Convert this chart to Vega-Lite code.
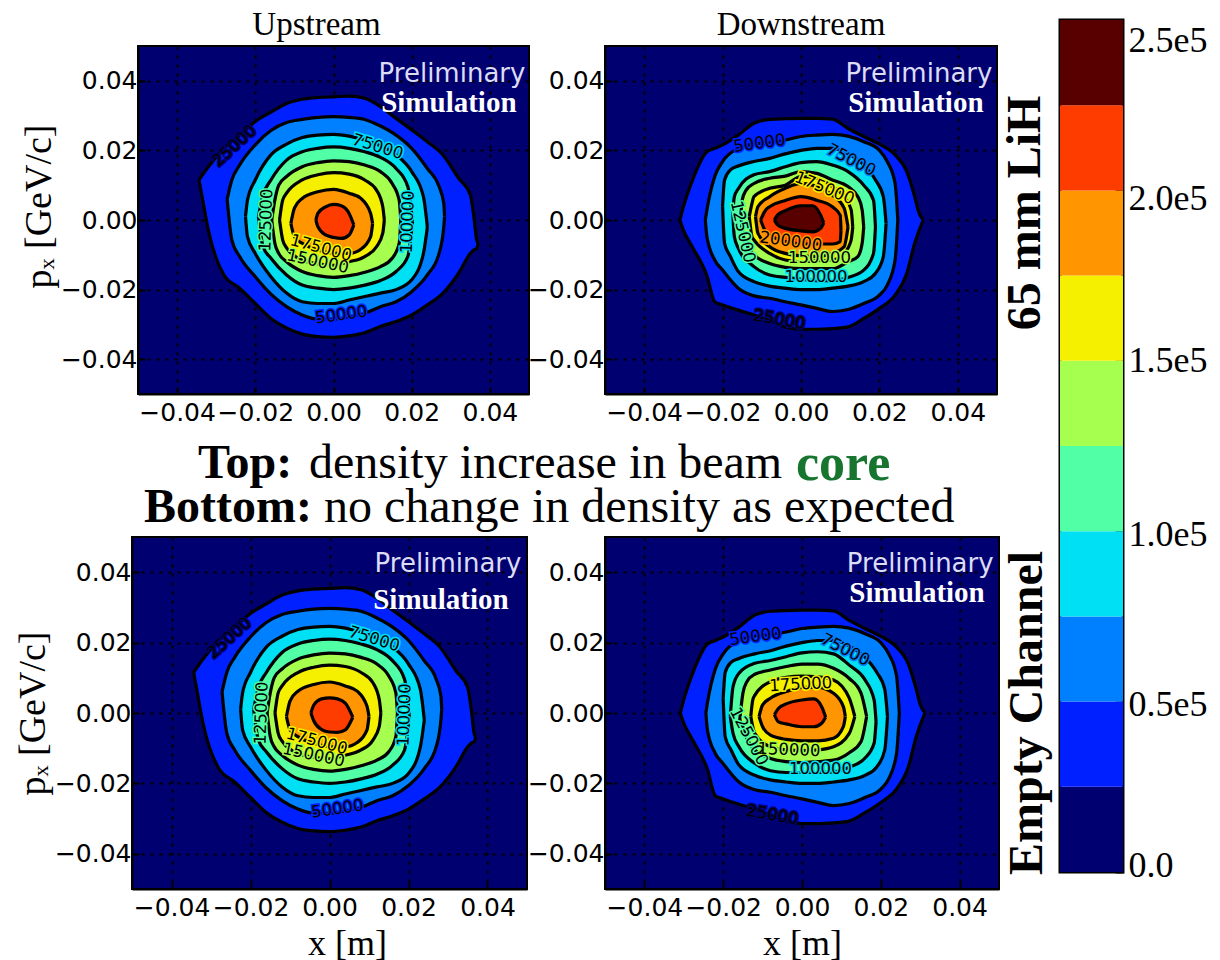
{"$schema":"https://vega.github.io/schema/vega-lite/v6.json","padding":{"left":13,"top":8,"right":0,"bottom":0},"background":"white",
"datasets":{
"up":[
{"l":25000,"x":-0.0344,"a":0.0115,"b":0.0115},{"l":25000,"x":-0.0335,"a":0.013,"b":0.006},{"l":25000,"x":-0.032,"a":0.0153,"b":-0.003},{"l":25000,"x":-0.028,"a":0.0206,"b":-0.0158},{"l":25000,"x":-0.024,"a":0.0244,"b":-0.0196},{"l":25000,"x":-0.02,"a":0.0283,"b":-0.024},{"l":25000,"x":-0.016,"a":0.031,"b":-0.0283},{"l":25000,"x":-0.012,"a":0.0335,"b":-0.031},{"l":25000,"x":-0.008,"a":0.0347,"b":-0.0328},{"l":25000,"x":-0.004,"a":0.0352,"b":-0.0335},{"l":25000,"x":0,"a":0.0354,"b":-0.0337},{"l":25000,"x":0.004,"a":0.0356,"b":-0.0333},{"l":25000,"x":0.008,"a":0.035,"b":-0.0324},{"l":25000,"x":0.012,"a":0.0326,"b":-0.0306},{"l":25000,"x":0.016,"a":0.0292,"b":-0.0292},{"l":25000,"x":0.02,"a":0.0259,"b":-0.0273},{"l":25000,"x":0.024,"a":0.0225,"b":-0.0244},{"l":25000,"x":0.028,"a":0.0187,"b":-0.021},{"l":25000,"x":0.032,"a":0.012,"b":-0.0153},{"l":25000,"x":0.035,"a":0.0072,"b":-0.0096},{"l":25000,"x":0.036,"a":0,"b":-0.0085},{"l":25000,"x":0.0366,"a":-0.0057,"b":-0.0082},{"l":25000,"x":0.037,"a":-0.0067,"b":-0.0067},
{"l":50000,"x":-0.0272,"a":0.006,"b":0.006},{"l":50000,"x":-0.026,"a":0.0115,"b":-0.0057},{"l":50000,"x":-0.024,"a":0.0158,"b":-0.0105},{"l":50000,"x":-0.02,"a":0.0216,"b":-0.0163},{"l":50000,"x":-0.016,"a":0.0257,"b":-0.0213},{"l":50000,"x":-0.012,"a":0.028,"b":-0.0249},{"l":50000,"x":-0.008,"a":0.0289,"b":-0.0273},{"l":50000,"x":-0.004,"a":0.0295,"b":-0.0285},{"l":50000,"x":0,"a":0.0297,"b":-0.0285},{"l":50000,"x":0.004,"a":0.0295,"b":-0.0278},{"l":50000,"x":0.008,"a":0.0289,"b":-0.0268},{"l":50000,"x":0.012,"a":0.027,"b":-0.0249},{"l":50000,"x":0.016,"a":0.0244,"b":-0.0235},{"l":50000,"x":0.02,"a":0.0206,"b":-0.0206},{"l":50000,"x":0.024,"a":0.0148,"b":-0.0158},{"l":50000,"x":0.027,"a":0.0096,"b":-0.0096},{"l":50000,"x":0.0282,"a":0.0048,"b":-0.002},{"l":50000,"x":0.0284,"a":0.001,"b":0.001},
{"l":75000,"x":-0.0225,"a":0.001,"b":0.001},{"l":75000,"x":-0.022,"a":0.0057,"b":-0.0048},{"l":75000,"x":-0.02,"a":0.0115,"b":-0.0096},{"l":75000,"x":-0.016,"a":0.0187,"b":-0.0163},{"l":75000,"x":-0.012,"a":0.0218,"b":-0.021},{"l":75000,"x":-0.008,"a":0.0237,"b":-0.0235},{"l":75000,"x":-0.004,"a":0.0244,"b":-0.024},{"l":75000,"x":0,"a":0.0246,"b":-0.024},{"l":75000,"x":0.004,"a":0.0241,"b":-0.023},{"l":75000,"x":0.008,"a":0.023,"b":-0.022},{"l":75000,"x":0.012,"a":0.0213,"b":-0.021},{"l":75000,"x":0.016,"a":0.0187,"b":-0.02},{"l":75000,"x":0.02,"a":0.0139,"b":-0.0172},{"l":75000,"x":0.023,"a":0.0067,"b":-0.0096},{"l":75000,"x":0.024,"a":-0.002,"b":-0.002},
{"l":100000,"x":-0.0192,"a":0.001,"b":0.001},{"l":100000,"x":-0.018,"a":0.0072,"b":-0.0077},{"l":100000,"x":-0.016,"a":0.0115,"b":-0.011},{"l":100000,"x":-0.012,"a":0.0172,"b":-0.0158},{"l":100000,"x":-0.008,"a":0.0196,"b":-0.0187},{"l":100000,"x":-0.004,"a":0.0206,"b":-0.0196},{"l":100000,"x":0,"a":0.021,"b":-0.02},{"l":100000,"x":0.004,"a":0.0206,"b":-0.0196},{"l":100000,"x":0.008,"a":0.0196,"b":-0.0187},{"l":100000,"x":0.012,"a":0.018,"b":-0.0174},{"l":100000,"x":0.016,"a":0.0148,"b":-0.0148},{"l":100000,"x":0.019,"a":0.0096,"b":-0.0105},{"l":100000,"x":0.0198,"a":0.0038,"b":-0.0048},{"l":100000,"x":0.0202,"a":-0.0005,"b":-0.0005},
{"l":125000,"x":-0.0158,"a":0,"b":0},{"l":125000,"x":-0.015,"a":0.0057,"b":-0.0067},{"l":125000,"x":-0.014,"a":0.01,"b":-0.0096},{"l":125000,"x":-0.012,"a":0.0125,"b":-0.012},{"l":125000,"x":-0.008,"a":0.0153,"b":-0.0148},{"l":125000,"x":-0.004,"a":0.0165,"b":-0.016},{"l":125000,"x":0,"a":0.017,"b":-0.0165},{"l":125000,"x":0.004,"a":0.0168,"b":-0.016},{"l":125000,"x":0.008,"a":0.0158,"b":-0.015},{"l":125000,"x":0.012,"a":0.0139,"b":-0.0134},{"l":125000,"x":0.015,"a":0.0105,"b":-0.011},{"l":125000,"x":0.0168,"a":0.0057,"b":-0.0067},{"l":125000,"x":0.0172,"a":0,"b":0},
{"l":150000,"x":-0.0138,"a":0,"b":0},{"l":150000,"x":-0.013,"a":0.0057,"b":-0.0057},{"l":150000,"x":-0.012,"a":0.0077,"b":-0.008},{"l":150000,"x":-0.008,"a":0.0115,"b":-0.0115},{"l":150000,"x":-0.004,"a":0.013,"b":-0.0126},{"l":150000,"x":0,"a":0.0136,"b":-0.013},{"l":150000,"x":0.004,"a":0.0132,"b":-0.012},{"l":150000,"x":0.008,"a":0.0115,"b":-0.0105},{"l":150000,"x":0.011,"a":0.0086,"b":-0.0077},{"l":150000,"x":0.0126,"a":0.0038,"b":-0.0038},{"l":150000,"x":0.013,"a":0,"b":0},
{"l":175000,"x":-0.0109,"a":-0.001,"b":-0.001},{"l":175000,"x":-0.01,"a":0.0034,"b":-0.0048},{"l":175000,"x":-0.008,"a":0.0062,"b":-0.0067},{"l":175000,"x":-0.004,"a":0.0081,"b":-0.0086},{"l":175000,"x":0,"a":0.0088,"b":-0.0096},{"l":175000,"x":0.004,"a":0.0077,"b":-0.0096},{"l":175000,"x":0.007,"a":0.0062,"b":-0.0084},{"l":175000,"x":0.0095,"a":0.0019,"b":-0.0048},{"l":175000,"x":0.01,"a":-0.001,"b":-0.001},
{"s":"LiH","l":200000,"x":-0.0045,"a":0,"b":0},{"s":"LiH","l":200000,"x":-0.004,"a":0.0019,"b":-0.0019},{"s":"LiH","l":200000,"x":-0.002,"a":0.0038,"b":-0.0043},{"s":"LiH","l":200000,"x":0,"a":0.0045,"b":-0.005},{"s":"LiH","l":200000,"x":0.002,"a":0.0041,"b":-0.0053},{"s":"LiH","l":200000,"x":0.004,"a":0.0019,"b":-0.0043},{"s":"LiH","l":200000,"x":0.0052,"a":-0.0014,"b":-0.0014},
{"s":"Empty","l":200000,"x":-0.0047,"a":0,"b":0},{"s":"Empty","l":200000,"x":-0.004,"a":0.0022,"b":-0.0022},{"s":"Empty","l":200000,"x":-0.002,"a":0.004,"b":-0.0047},{"s":"Empty","l":200000,"x":0,"a":0.0043,"b":-0.0054},{"s":"Empty","l":200000,"x":0.002,"a":0.004,"b":-0.0055},{"s":"Empty","l":200000,"x":0.004,"a":0.0028,"b":-0.0048},{"s":"Empty","l":200000,"x":0.0059,"a":-0.0012,"b":-0.0012}
],
"down":[
{"l":25000,"x":-0.0309,"a":0,"b":0},{"l":25000,"x":-0.03,"a":0.0038,"b":-0.0029},{"l":25000,"x":-0.028,"a":0.0105,"b":-0.0072},{"l":25000,"x":-0.024,"a":0.0196,"b":-0.016},{"l":25000,"x":-0.022,"a":0.0206,"b":-0.0235},{"l":25000,"x":-0.02,"a":0.0216,"b":-0.0244},{"l":25000,"x":-0.016,"a":0.0244,"b":-0.0259},{"l":25000,"x":-0.012,"a":0.0278,"b":-0.0273},{"l":25000,"x":-0.008,"a":0.0289,"b":-0.0289},{"l":25000,"x":-0.004,"a":0.0291,"b":-0.0307},{"l":25000,"x":0,"a":0.0292,"b":-0.0314},{"l":25000,"x":0.004,"a":0.0292,"b":-0.0314},{"l":25000,"x":0.008,"a":0.029,"b":-0.0312},{"l":25000,"x":0.012,"a":0.0263,"b":-0.0307},{"l":25000,"x":0.016,"a":0.024,"b":-0.0283},{"l":25000,"x":0.02,"a":0.0218,"b":-0.0254},{"l":25000,"x":0.024,"a":0.0187,"b":-0.0216},{"l":25000,"x":0.027,"a":0.0139,"b":-0.0153},{"l":25000,"x":0.029,"a":0.0067,"b":-0.0067},{"l":25000,"x":0.03,"a":0.0024,"b":-0.0034},{"l":25000,"x":0.0312,"a":0,"b":0},
{"l":50000,"x":-0.0244,"a":0,"b":0},{"l":50000,"x":-0.024,"a":0.0029,"b":-0.0048},{"l":50000,"x":-0.022,"a":0.0125,"b":-0.0115},{"l":50000,"x":-0.02,"a":0.0168,"b":-0.0144},{"l":50000,"x":-0.016,"a":0.0206,"b":-0.0196},{"l":50000,"x":-0.012,"a":0.0218,"b":-0.0218},{"l":50000,"x":-0.008,"a":0.0222,"b":-0.0225},{"l":50000,"x":-0.004,"a":0.023,"b":-0.0235},{"l":50000,"x":0,"a":0.024,"b":-0.0244},{"l":50000,"x":0.004,"a":0.0244,"b":-0.0254},{"l":50000,"x":0.008,"a":0.0246,"b":-0.0263},{"l":50000,"x":0.012,"a":0.0241,"b":-0.0257},{"l":50000,"x":0.016,"a":0.0225,"b":-0.024},{"l":50000,"x":0.02,"a":0.02,"b":-0.0216},{"l":50000,"x":0.022,"a":0.0168,"b":-0.0187},{"l":50000,"x":0.024,"a":0.0105,"b":-0.0115},{"l":50000,"x":0.0247,"a":0,"b":0},
{"l":75000,"x":-0.02,"a":0.004,"b":0.004},{"l":75000,"x":-0.0195,"a":0.0115,"b":-0.0067},{"l":75000,"x":-0.018,"a":0.0144,"b":-0.0105},{"l":75000,"x":-0.016,"a":0.0155,"b":-0.0148},{"l":75000,"x":-0.012,"a":0.0168,"b":-0.0177},{"l":75000,"x":-0.008,"a":0.0177,"b":-0.019},{"l":75000,"x":-0.004,"a":0.019,"b":-0.0196},{"l":75000,"x":0,"a":0.02,"b":-0.02},{"l":75000,"x":0.004,"a":0.0206,"b":-0.02},{"l":75000,"x":0.008,"a":0.0206,"b":-0.0196},{"l":75000,"x":0.012,"a":0.019,"b":-0.019},{"l":75000,"x":0.016,"a":0.0158,"b":-0.0177},{"l":75000,"x":0.019,"a":0.0115,"b":-0.0153},{"l":75000,"x":0.021,"a":0.0067,"b":-0.0105},{"l":75000,"x":0.0217,"a":-0.001,"b":-0.001},
{"s":"LiH","l":100000,"x":-0.0174,"a":0.002,"b":0.002},{"s":"LiH","l":100000,"x":-0.017,"a":0.0067,"b":-0.0048},{"s":"LiH","l":100000,"x":-0.016,"a":0.009,"b":-0.0081},{"s":"LiH","l":100000,"x":-0.012,"a":0.013,"b":-0.0134},{"s":"LiH","l":100000,"x":-0.008,"a":0.0139,"b":-0.0158},{"s":"LiH","l":100000,"x":-0.004,"a":0.0153,"b":-0.0165},{"s":"LiH","l":100000,"x":0,"a":0.0165,"b":-0.017},{"s":"LiH","l":100000,"x":0.004,"a":0.0168,"b":-0.0174},{"s":"LiH","l":100000,"x":0.008,"a":0.0158,"b":-0.0174},{"s":"LiH","l":100000,"x":0.012,"a":0.0139,"b":-0.0165},{"s":"LiH","l":100000,"x":0.016,"a":0.01,"b":-0.0144},{"s":"LiH","l":100000,"x":0.0185,"a":0.0057,"b":-0.0096},{"s":"LiH","l":100000,"x":0.019,"a":-0.002,"b":-0.002},
{"s":"LiH","l":125000,"x":-0.0153,"a":0.002,"b":0.002},{"s":"LiH","l":125000,"x":-0.015,"a":0.0057,"b":-0.003},{"s":"LiH","l":125000,"x":-0.014,"a":0.0086,"b":-0.0067},{"s":"LiH","l":125000,"x":-0.012,"a":0.0105,"b":-0.01},{"s":"LiH","l":125000,"x":-0.008,"a":0.012,"b":-0.0125},{"s":"LiH","l":125000,"x":-0.004,"a":0.0126,"b":-0.0136},{"s":"LiH","l":125000,"x":0,"a":0.0139,"b":-0.014},{"s":"LiH","l":125000,"x":0.004,"a":0.0134,"b":-0.014},{"s":"LiH","l":125000,"x":0.008,"a":0.0115,"b":-0.014},{"s":"LiH","l":125000,"x":0.012,"a":0.0096,"b":-0.012},{"s":"LiH","l":125000,"x":0.0145,"a":0.0067,"b":-0.0105},{"s":"LiH","l":125000,"x":0.0156,"a":0.0029,"b":-0.0067},{"s":"LiH","l":125000,"x":0.016,"a":-0.002,"b":-0.002},
{"s":"LiH","l":150000,"x":-0.0132,"a":0.001,"b":0.001},{"s":"LiH","l":150000,"x":-0.0125,"a":0.0048,"b":-0.0048},{"s":"LiH","l":150000,"x":-0.012,"a":0.0067,"b":-0.0057},{"s":"LiH","l":150000,"x":-0.008,"a":0.0091,"b":-0.0096},{"s":"LiH","l":150000,"x":-0.004,"a":0.01,"b":-0.0115},{"s":"LiH","l":150000,"x":0,"a":0.0125,"b":-0.012},{"s":"LiH","l":150000,"x":0.004,"a":0.012,"b":-0.0117},{"s":"LiH","l":150000,"x":0.008,"a":0.0096,"b":-0.0115},{"s":"LiH","l":150000,"x":0.011,"a":0.0067,"b":-0.0096},{"s":"LiH","l":150000,"x":0.0128,"a":0.0029,"b":-0.0057},{"s":"LiH","l":150000,"x":0.0132,"a":-0.002,"b":-0.002},
{"s":"LiH","l":175000,"x":-0.0116,"a":0.001,"b":0.001},{"s":"LiH","l":175000,"x":-0.011,"a":0.0038,"b":-0.0038},{"s":"LiH","l":175000,"x":-0.008,"a":0.0067,"b":-0.0077},{"s":"LiH","l":175000,"x":-0.004,"a":0.0091,"b":-0.0096},{"s":"LiH","l":175000,"x":0,"a":0.0105,"b":-0.0103},{"s":"LiH","l":175000,"x":0.004,"a":0.0096,"b":-0.0105},{"s":"LiH","l":175000,"x":0.008,"a":0.0072,"b":-0.0096},{"s":"LiH","l":175000,"x":0.011,"a":0.0034,"b":-0.0077},{"s":"LiH","l":175000,"x":0.012,"a":-0.002,"b":-0.002},
{"s":"LiH","l":200000,"x":-0.0103,"a":0,"b":0},{"s":"LiH","l":200000,"x":-0.009,"a":0.0029,"b":-0.0034},{"s":"LiH","l":200000,"x":-0.008,"a":0.0038,"b":-0.0043},{"s":"LiH","l":200000,"x":-0.004,"a":0.0056,"b":-0.0062},{"s":"LiH","l":200000,"x":0,"a":0.0067,"b":-0.0069},{"s":"LiH","l":200000,"x":0.004,"a":0.0057,"b":-0.0069},{"s":"LiH","l":200000,"x":0.008,"a":0.0038,"b":-0.0069},{"s":"LiH","l":200000,"x":0.01,"a":0.0014,"b":-0.0062},{"s":"LiH","l":200000,"x":0.0102,"a":-0.0029,"b":-0.0029},
{"s":"LiH","l":225000,"x":-0.0068,"a":0,"b":0},{"s":"LiH","l":225000,"x":-0.006,"a":0.0014,"b":-0.0014},{"s":"LiH","l":225000,"x":-0.004,"a":0.0027,"b":-0.0024},{"s":"LiH","l":225000,"x":0,"a":0.0041,"b":-0.0031},{"s":"LiH","l":225000,"x":0.003,"a":0.0041,"b":-0.0034},{"s":"LiH","l":225000,"x":0.005,"a":0.0014,"b":-0.0024},{"s":"LiH","l":225000,"x":0.0058,"a":-0.0008,"b":-0.0008},
{"s":"Empty","l":100000,"x":-0.0182,"a":-0.001,"b":-0.001},{"s":"Empty","l":100000,"x":-0.0175,"a":0.0075,"b":-0.0058},{"s":"Empty","l":100000,"x":-0.016,"a":0.0113,"b":-0.0096},{"s":"Empty","l":100000,"x":-0.012,"a":0.0141,"b":-0.0143},{"s":"Empty","l":100000,"x":-0.008,"a":0.0149,"b":-0.0164},{"s":"Empty","l":100000,"x":-0.004,"a":0.016,"b":-0.0169},{"s":"Empty","l":100000,"x":0,"a":0.0171,"b":-0.0169},{"s":"Empty","l":100000,"x":0.004,"a":0.0174,"b":-0.0169},{"s":"Empty","l":100000,"x":0.008,"a":0.0168,"b":-0.0167},{"s":"Empty","l":100000,"x":0.012,"a":0.0136,"b":-0.0154},{"s":"Empty","l":100000,"x":0.016,"a":0.0094,"b":-0.0128},{"s":"Empty","l":100000,"x":0.0183,"a":0.0037,"b":-0.0086},{"s":"Empty","l":100000,"x":0.0188,"a":-0.0025,"b":-0.0025},
{"s":"Empty","l":125000,"x":-0.0158,"a":-0.002,"b":-0.002},{"s":"Empty","l":125000,"x":-0.015,"a":0.0056,"b":-0.0039},{"s":"Empty","l":125000,"x":-0.014,"a":0.0089,"b":-0.0072},{"s":"Empty","l":125000,"x":-0.012,"a":0.011,"b":-0.0105},{"s":"Empty","l":125000,"x":-0.008,"a":0.0122,"b":-0.0129},{"s":"Empty","l":125000,"x":-0.004,"a":0.0132,"b":-0.0138},{"s":"Empty","l":125000,"x":0,"a":0.0139,"b":-0.0141},{"s":"Empty","l":125000,"x":0.004,"a":0.0139,"b":-0.0138},{"s":"Empty","l":125000,"x":0.008,"a":0.0127,"b":-0.0134},{"s":"Empty","l":125000,"x":0.012,"a":0.0098,"b":-0.0113},{"s":"Empty","l":125000,"x":0.015,"a":0.0056,"b":-0.0081},{"s":"Empty","l":125000,"x":0.0164,"a":-0.001,"b":-0.001},
{"s":"Empty","l":150000,"x":-0.013,"a":-0.001,"b":-0.001},{"s":"Empty","l":150000,"x":-0.0125,"a":0.0037,"b":-0.0039},{"s":"Empty","l":150000,"x":-0.012,"a":0.005,"b":-0.0058},{"s":"Empty","l":150000,"x":-0.008,"a":0.0089,"b":-0.0096},{"s":"Empty","l":150000,"x":-0.004,"a":0.0101,"b":-0.0105},{"s":"Empty","l":150000,"x":0,"a":0.0105,"b":-0.0107},{"s":"Empty","l":150000,"x":0.004,"a":0.0103,"b":-0.0105},{"s":"Empty","l":150000,"x":0.008,"a":0.0094,"b":-0.0096},{"s":"Empty","l":150000,"x":0.012,"a":0.0042,"b":-0.0058},{"s":"Empty","l":150000,"x":0.0134,"a":-0.001,"b":-0.001},
{"s":"Empty","l":175000,"x":-0.0109,"a":-0.001,"b":-0.001},{"s":"Empty","l":175000,"x":-0.01,"a":0.0023,"b":-0.0039},{"s":"Empty","l":175000,"x":-0.008,"a":0.0042,"b":-0.0063},{"s":"Empty","l":175000,"x":-0.004,"a":0.0061,"b":-0.0075},{"s":"Empty","l":175000,"x":0,"a":0.0073,"b":-0.0079},{"s":"Empty","l":175000,"x":0.004,"a":0.0073,"b":-0.0079},{"s":"Empty","l":175000,"x":0.008,"a":0.0056,"b":-0.0072},{"s":"Empty","l":175000,"x":0.0105,"a":0.0018,"b":-0.0039},{"s":"Empty","l":175000,"x":0.011,"a":-0.001,"b":-0.001},
{"s":"Empty","l":200000,"x":-0.007,"a":-0.0005,"b":-0.0005},{"s":"Empty","l":200000,"x":-0.006,"a":0.0013,"b":-0.0025},{"s":"Empty","l":200000,"x":-0.004,"a":0.0026,"b":-0.0031},{"s":"Empty","l":200000,"x":0,"a":0.0037,"b":-0.0039},{"s":"Empty","l":200000,"x":0.003,"a":0.004,"b":-0.0039},{"s":"Empty","l":200000,"x":0.005,"a":0.0018,"b":-0.0029},{"s":"Empty","l":200000,"x":0.006,"a":-0.0012,"b":-0.0012}
],
"labUp":[{"x":-0.0253,"y":0.0213,"t":"25000","r":-42,"h":0},{"x":0.0113,"y":0.021,"t":"75000","r":17,"h":75000},{"x":0.019,"y":-0.0005,"t":"100000","r":272,"h":75000},{"x":-0.0172,"y":0,"t":"125000","r":272,"h":100000},{"x":-0.004,"y":-0.012,"t":"150000","r":12,"h":125000},{"x":-0.0032,"y":-0.0081,"t":"175000","r":15,"h":150000},{"x":0.002,"y":-0.0273,"t":"50000","r":-8,"h":25000}],
"labDownLiH":[{"x":-0.0106,"y":0.022,"t":"50000","r":-8,"h":25000},{"x":0.0128,"y":0.0172,"t":"75000","r":27,"h":50000},{"x":0.006,"y":0.0091,"t":"175000","r":22,"h":150000},{"x":-0.0149,"y":-0.0034,"t":"125000","r":77,"h":100000},{"x":-0.0026,"y":-0.0062,"t":"200000","r":8,"h":175000},{"x":0.0047,"y":-0.011,"t":"150000","r":0,"h":125000},{"x":0.0038,"y":-0.0165,"t":"100000","r":0,"h":75000},{"x":-0.0055,"y":-0.0287,"t":"25000","r":10,"h":0}],
"labDownEmpty":[{"x":-0.0118,"y":0.0217,"t":"50000","r":-8,"h":25000},{"x":0.011,"y":0.0179,"t":"75000","r":27,"h":50000},{"x":-0.0003,"y":0.0081,"t":"175000","r":-3,"h":150000},{"x":-0.0135,"y":-0.0067,"t":"125000","r":62,"h":100000},{"x":-0.0033,"y":-0.0105,"t":"150000","r":2,"h":125000},{"x":0.0047,"y":-0.0159,"t":"100000","r":0,"h":75000},{"x":-0.0075,"y":-0.029,"t":"25000","r":10,"h":0}],
"bands":[{"lo":0,"hi":25000,"l":0},{"lo":25000,"hi":50000,"l":25000},{"lo":50000,"hi":75000,"l":50000},{"lo":75000,"hi":100000,"l":75000},{"lo":100000,"hi":125000,"l":100000},{"lo":125000,"hi":150000,"l":125000},{"lo":150000,"hi":175000,"l":150000},{"lo":175000,"hi":200000,"l":175000},{"lo":200000,"hi":225000,"l":200000},{"lo":225000,"hi":250000,"l":225000}],
"blank":[{"t":""}]
},
"hconcat":[
{"spacing":-18,"vconcat":[
{"width":1,"height":1,"view":{"stroke":null},"data":{"name":"blank"},"mark":{"type":"text"},"encoding":{"text":{"field":"t"}}},
{"spacing":2,"vconcat":[
{"spacing":-118,"hconcat":[
{"width":5,"height":1,"view":{"stroke":null},"data":{"name":"blank"},"mark":{"type":"text"},"encoding":{"text":{"field":"t"}}},
{"spacing":-4,"hconcat":[
{"width":391,"height":348,"view":{"fill":"#000070","stroke":"black","strokeWidth":2},"title":{"text":"Upstream","dx":-17},
"encoding":{"x":{"field":"x","type":"quantitative","title":null,"scale":{"domain":[-0.05,0.05],"nice":false},"axis":{"values":[-0.04,-0.02,0,0.02,0.04],"format":".2f"}},"y":{"field":"a","type":"quantitative","title":"pₓ [GeV/c]","scale":{"domain":[-0.05,0.05],"nice":false},"axis":{"values":[-0.04,-0.02,0,0.02,0.04],"format":".2f","titlePadding":2,"titleY":160}}},
"layer":[
{"data":{"name":"up"},"transform":[{"filter":"datum.s!='Empty'"}],"layer":[
{"mark":{"type":"area","interpolate":"monotone"},"encoding":{"y2":{"field":"b"},"color":{"field":"l","type":"nominal","legend":null,"scale":{"domain":[0,25000,50000,75000,100000,125000,150000,175000,200000,225000],"range":["#000070","#0020ff","#0080ff","#00e0f5","#50ffa6","#a6ff4e","#f5f000","#ff9500","#ff3c00","#580000"]}}}},
{"mark":{"type":"line","interpolate":"monotone","color":"black","strokeWidth":3.2},"encoding":{"detail":{"field":"l"}}},
{"mark":{"type":"line","interpolate":"monotone","color":"black","strokeWidth":3.2},"encoding":{"detail":{"field":"l"},"y":{"field":"b","type":"quantitative","title":"pₓ [GeV/c]"}}}]},
{"data":{"name":"labUp"},"layer":[
{"mark":{"type":"text","font":"DejaVu Sans","fontSize":16.5,"strokeWidth":3},"encoding":{"y":{"field":"y","type":"quantitative","title":"pₓ [GeV/c]"},"text":{"field":"t"},"angle":{"field":"r","type":"quantitative","scale":null},"stroke":{"field":"h","type":"nominal","legend":null,"scale":{"domain":[0,25000,50000,75000,100000,125000,150000,175000],"range":["#000070","#0020ff","#0080ff","#00e0f5","#50ffa6","#a6ff4e","#f5f000","#ff9500"]}}}},
{"mark":{"type":"text","font":"DejaVu Sans","fontSize":16.5,"color":"black"},"encoding":{"y":{"field":"y","type":"quantitative","title":"pₓ [GeV/c]"},"text":{"field":"t"},"angle":{"field":"r","type":"quantitative","scale":null}}}]},
{"data":{"values":[{"x":0.0303,"y":0.042,"t":"Preliminary"}]},"mark":{"type":"text","font":"DejaVu Sans","fontSize":26,"color":"#dcdcf5"},"encoding":{"y":{"field":"y","type":"quantitative","title":"pₓ [GeV/c]"},"text":{"field":"t"}}},
{"data":{"values":[{"x":0.0295,"y":0.0336,"t":"Simulation"}]},"mark":{"type":"text","font":"Liberation Serif","fontSize":29,"fontWeight":"bold","color":"white"},"encoding":{"y":{"field":"y","type":"quantitative","title":"pₓ [GeV/c]"},"text":{"field":"t"}}}
]},
{"width":392,"height":348,"view":{"fill":"#000070","stroke":"black","strokeWidth":2},"title":"Downstream",
"encoding":{"x":{"field":"x","type":"quantitative","title":null,"scale":{"domain":[-0.05,0.05],"nice":false},"axis":{"values":[-0.04,-0.02,0,0.02,0.04],"format":".2f"}},"y":{"field":"a","type":"quantitative","title":null,"scale":{"domain":[-0.05,0.05],"nice":false},"axis":{"values":[-0.04,-0.02,0,0.02,0.04],"format":".2f"}}},
"layer":[
{"data":{"name":"down"},"transform":[{"filter":"datum.s!='Empty'"}],"layer":[
{"mark":{"type":"area","interpolate":"monotone"},"encoding":{"y2":{"field":"b"},"color":{"field":"l","type":"nominal","legend":null,"scale":{"domain":[0,25000,50000,75000,100000,125000,150000,175000,200000,225000],"range":["#000070","#0020ff","#0080ff","#00e0f5","#50ffa6","#a6ff4e","#f5f000","#ff9500","#ff3c00","#580000"]}}}},
{"mark":{"type":"line","interpolate":"monotone","color":"black","strokeWidth":3.2},"encoding":{"detail":{"field":"l"}}},
{"mark":{"type":"line","interpolate":"monotone","color":"black","strokeWidth":3.2},"encoding":{"detail":{"field":"l"},"y":{"field":"b","type":"quantitative","title":null}}}]},
{"data":{"name":"labDownLiH"},"layer":[
{"mark":{"type":"text","font":"DejaVu Sans","fontSize":16.5,"strokeWidth":3},"encoding":{"y":{"field":"y","type":"quantitative","title":null},"text":{"field":"t"},"angle":{"field":"r","type":"quantitative","scale":null},"stroke":{"field":"h","type":"nominal","legend":null,"scale":{"domain":[0,25000,50000,75000,100000,125000,150000,175000],"range":["#000070","#0020ff","#0080ff","#00e0f5","#50ffa6","#a6ff4e","#f5f000","#ff9500"]}}}},
{"mark":{"type":"text","font":"DejaVu Sans","fontSize":16.5,"color":"black"},"encoding":{"y":{"field":"y","type":"quantitative","title":null},"text":{"field":"t"},"angle":{"field":"r","type":"quantitative","scale":null}}}]},
{"data":{"values":[{"x":0.0301,"y":0.042,"t":"Preliminary"}]},"mark":{"type":"text","font":"DejaVu Sans","fontSize":26,"color":"#dcdcf5"},"encoding":{"y":{"field":"y","type":"quantitative","title":null},"text":{"field":"t"}}},
{"data":{"values":[{"x":0.0293,"y":0.0336,"t":"Simulation"}]},"mark":{"type":"text","font":"Liberation Serif","fontSize":29,"fontWeight":"bold","color":"white"},"encoding":{"y":{"field":"y","type":"quantitative","title":null},"text":{"field":"t"}}}
]},
{"width":56,"height":348,"view":{"stroke":null},"data":{"values":[{"t":"65 mm LiH"}]},"mark":{"type":"text","angle":270,"font":"Liberation Serif","fontWeight":"bold","fontSize":48,"dx":7},"encoding":{"text":{"field":"t"}}}
]}
]},
{"width":870,"height":106,"view":{"stroke":null},
"encoding":{"x":{"field":"u","type":"quantitative","axis":null,"scale":{"domain":[131,1001],"nice":false}},"y":{"field":"v","type":"quantitative","axis":null,"scale":{"domain":[533,427],"nice":false}},"text":{"field":"t"}},
"layer":[
{"data":{"values":[{"u":197,"v":463,"t":"Top:"},{"u":143,"v":507,"t":"Bottom:"}]},"mark":{"type":"text","align":"left","font":"Liberation Serif","fontSize":48,"fontWeight":"bold","color":"black"}},
{"data":{"values":[{"u":308,"v":463,"t":"density increase in beam"},{"u":323,"v":507,"t":"no change in density as expected"}]},"mark":{"type":"text","align":"left","font":"Liberation Serif","fontSize":48,"color":"black"}},
{"data":{"values":[{"u":795,"v":463,"t":"core"}]},"mark":{"type":"text","align":"left","font":"Liberation Serif","fontSize":52,"fontWeight":"bold","color":"#17752f"}}
]},
{"spacing":-2,"hconcat":[
{"width":395,"height":352,"view":{"fill":"#000070","stroke":"black","strokeWidth":2},
"encoding":{"x":{"field":"x","type":"quantitative","title":"x [m]","scale":{"domain":[-0.05,0.05],"nice":false},"axis":{"values":[-0.04,-0.02,0,0.02,0.04],"format":".2f","titleX":215}},"y":{"field":"a","type":"quantitative","title":"pₓ [GeV/c]","scale":{"domain":[-0.05,0.05],"nice":false},"axis":{"values":[-0.04,-0.02,0,0.02,0.04],"format":".2f","titlePadding":2}}},
"layer":[
{"data":{"name":"up"},"transform":[{"filter":"datum.s!='LiH'"}],"layer":[
{"mark":{"type":"area","interpolate":"monotone"},"encoding":{"y2":{"field":"b"},"color":{"field":"l","type":"nominal","legend":null,"scale":{"domain":[0,25000,50000,75000,100000,125000,150000,175000,200000,225000],"range":["#000070","#0020ff","#0080ff","#00e0f5","#50ffa6","#a6ff4e","#f5f000","#ff9500","#ff3c00","#580000"]}}}},
{"mark":{"type":"line","interpolate":"monotone","color":"black","strokeWidth":3.2},"encoding":{"detail":{"field":"l"}}},
{"mark":{"type":"line","interpolate":"monotone","color":"black","strokeWidth":3.2},"encoding":{"detail":{"field":"l"},"y":{"field":"b","type":"quantitative","title":"pₓ [GeV/c]"}}}]},
{"data":{"name":"labUp"},"layer":[
{"mark":{"type":"text","font":"DejaVu Sans","fontSize":16.5,"strokeWidth":3},"encoding":{"y":{"field":"y","type":"quantitative","title":"pₓ [GeV/c]"},"text":{"field":"t"},"angle":{"field":"r","type":"quantitative","scale":null},"stroke":{"field":"h","type":"nominal","legend":null,"scale":{"domain":[0,25000,50000,75000,100000,125000,150000,175000],"range":["#000070","#0020ff","#0080ff","#00e0f5","#50ffa6","#a6ff4e","#f5f000","#ff9500"]}}}},
{"mark":{"type":"text","font":"DejaVu Sans","fontSize":16.5,"color":"black"},"encoding":{"y":{"field":"y","type":"quantitative","title":"pₓ [GeV/c]"},"text":{"field":"t"},"angle":{"field":"r","type":"quantitative","scale":null}}}]},
{"data":{"values":[{"x":0.03,"y":0.0423,"t":"Preliminary"}]},"mark":{"type":"text","font":"DejaVu Sans","fontSize":26,"color":"#dcdcf5"},"encoding":{"y":{"field":"y","type":"quantitative","title":"pₓ [GeV/c]"},"text":{"field":"t"}}},
{"data":{"values":[{"x":0.0282,"y":0.0321,"t":"Simulation"}]},"mark":{"type":"text","font":"Liberation Serif","fontSize":29,"fontWeight":"bold","color":"white"},"encoding":{"y":{"field":"y","type":"quantitative","title":"pₓ [GeV/c]"},"text":{"field":"t"}}}
]},
{"width":394,"height":352,"view":{"fill":"#000070","stroke":"black","strokeWidth":2},
"encoding":{"x":{"field":"x","type":"quantitative","title":"x [m]","scale":{"domain":[-0.05,0.05],"nice":false},"axis":{"values":[-0.04,-0.02,0,0.02,0.04],"format":".2f"}},"y":{"field":"a","type":"quantitative","title":null,"scale":{"domain":[-0.05,0.05],"nice":false},"axis":{"values":[-0.04,-0.02,0,0.02,0.04],"format":".2f"}}},
"layer":[
{"data":{"name":"down"},"transform":[{"filter":"datum.s!='LiH'"}],"layer":[
{"mark":{"type":"area","interpolate":"monotone"},"encoding":{"y2":{"field":"b"},"color":{"field":"l","type":"nominal","legend":null,"scale":{"domain":[0,25000,50000,75000,100000,125000,150000,175000,200000,225000],"range":["#000070","#0020ff","#0080ff","#00e0f5","#50ffa6","#a6ff4e","#f5f000","#ff9500","#ff3c00","#580000"]}}}},
{"mark":{"type":"line","interpolate":"monotone","color":"black","strokeWidth":3.2},"encoding":{"detail":{"field":"l"}}},
{"mark":{"type":"line","interpolate":"monotone","color":"black","strokeWidth":3.2},"encoding":{"detail":{"field":"l"},"y":{"field":"b","type":"quantitative","title":null}}}]},
{"data":{"name":"labDownEmpty"},"layer":[
{"mark":{"type":"text","font":"DejaVu Sans","fontSize":16.5,"strokeWidth":3},"encoding":{"y":{"field":"y","type":"quantitative","title":null},"text":{"field":"t"},"angle":{"field":"r","type":"quantitative","scale":null},"stroke":{"field":"h","type":"nominal","legend":null,"scale":{"domain":[0,25000,50000,75000,100000,125000,150000,175000],"range":["#000070","#0020ff","#0080ff","#00e0f5","#50ffa6","#a6ff4e","#f5f000","#ff9500"]}}}},
{"mark":{"type":"text","font":"DejaVu Sans","fontSize":16.5,"color":"black"},"encoding":{"y":{"field":"y","type":"quantitative","title":null},"text":{"field":"t"},"angle":{"field":"r","type":"quantitative","scale":null}}}]},
{"data":{"values":[{"x":0.03,"y":0.0423,"t":"Preliminary"}]},"mark":{"type":"text","font":"DejaVu Sans","fontSize":26,"color":"#dcdcf5"},"encoding":{"y":{"field":"y","type":"quantitative","title":null},"text":{"field":"t"}}},
{"data":{"values":[{"x":0.0292,"y":0.0341,"t":"Simulation"}]},"mark":{"type":"text","font":"Liberation Serif","fontSize":29,"fontWeight":"bold","color":"white"},"encoding":{"y":{"field":"y","type":"quantitative","title":null},"text":{"field":"t"}}}
]},
{"width":56,"height":352,"view":{"stroke":null},"data":{"values":[{"t":"Empty Channel"}]},"mark":{"type":"text","angle":270,"font":"Liberation Serif","fontWeight":"bold","fontSize":48},"encoding":{"text":{"field":"t"}}}
]}
]}
]},
{"width":63,"height":852,"view":{"stroke":"black","strokeWidth":3},"data":{"name":"bands"},"mark":{"type":"rect"},
"encoding":{"y":{"field":"lo","type":"quantitative","scale":{"domain":[0,250000],"nice":false},"axis":{"orient":"right","title":null,"grid":false,"domain":false,"values":[0,50000,100000,150000,200000,250000],"tickSize":-8,"labelFont":"Liberation Serif","labelFontSize":36,"labelFontWeight":"normal","labelPadding":13,"labelExpr":"datum.value==0?'\u20090.0':datum.value==50000?'\u20090.5e5':format(datum.value/100000,'.1f')+'e5'","labelOffset":{"condition":[{"test":"datum.value==250000","value":20},{"test":"datum.value==200000","value":8},{"test":"datum.value==100000||datum.value==50000","value":3},{"test":"datum.value==0","value":-7}],"value":0}}},"y2":{"field":"hi"},"color":{"field":"l","type":"nominal","legend":null,"scale":{"domain":[0,25000,50000,75000,100000,125000,150000,175000,200000,225000],"range":["#000070","#0020ff","#0080ff","#00e0f5","#50ffa6","#a6ff4e","#f5f000","#ff9500","#ff3c00","#580000"]}}}}
],
"spacing":2,
"config":{
"title":{"font":"Liberation Serif","fontSize":33,"fontWeight":"normal","offset":0,"color":"black"},
"axis":{"grid":true,"gridColor":"black","gridDash":[3,6],"gridWidth":2,"gridOpacity":1,"domainColor":"black","domainWidth":2,"tickColor":"black","tickWidth":2,"tickSize":-7,"labelFont":"DejaVu Sans","labelFontSize":25,"labelColor":"black","labelOverlap":false,"labelFlush":false,"labelBound":false,"titleFont":"Liberation Serif","titleFontSize":38,"titleFontWeight":"normal","titleColor":"black","titlePadding":2,"zindex":1},
"axisX":{"labelPadding":13,"titleFontSize":36,"titlePadding":6},
"axisY":{"labelPadding":8}
}}
